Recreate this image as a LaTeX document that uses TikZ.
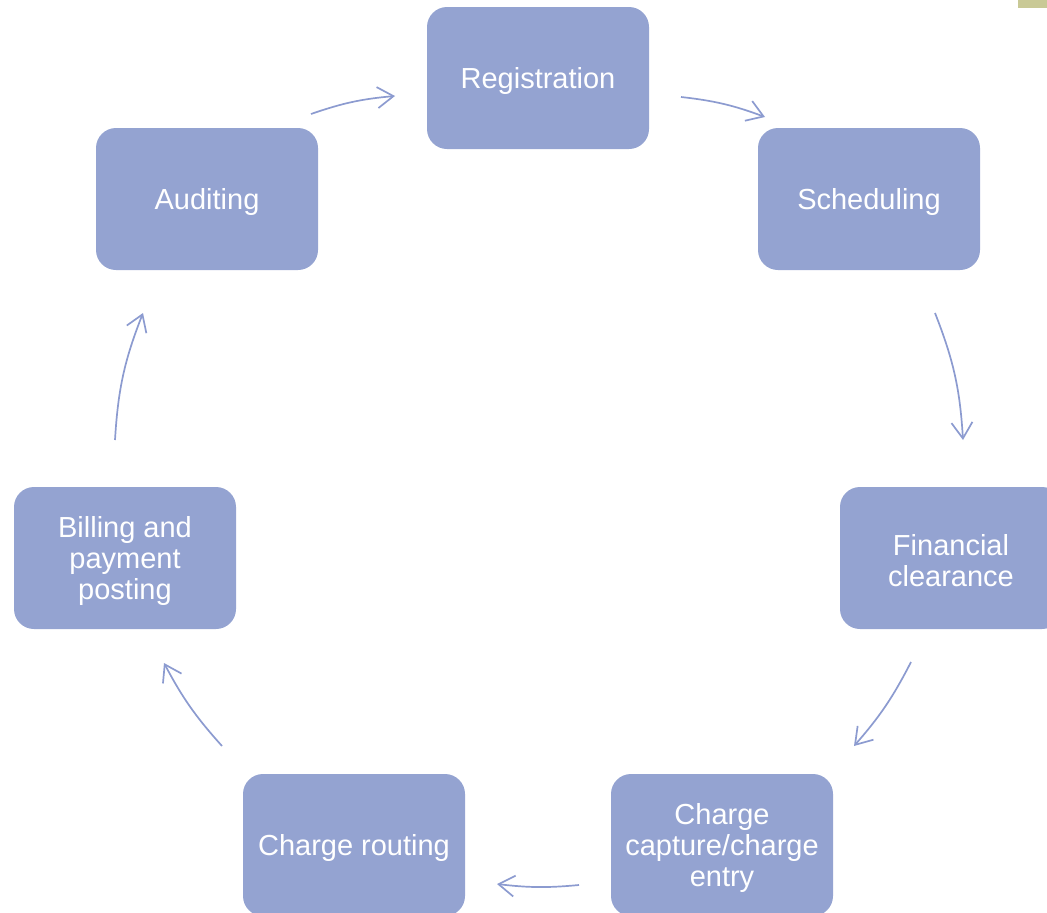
\documentclass[tikz,border=0pt]{standalone}
\usepackage{fontspec}
\setmainfont{Liberation Sans}
\usetikzlibrary{arrows.meta}
\definecolor{boxfill}{HTML}{94A3D1}
\definecolor{arrcol}{HTML}{8C9BD0}
\definecolor{khaki}{HTML}{C9C996}
\tikzset{
  stepbox/.style={fill=boxfill, rounded corners=20pt, minimum width=222pt, minimum height=142pt, inner sep=0pt},
  steptext/.style={text=white, align=center, font=\fontsize{29}{31}\selectfont, inner sep=0pt, yshift=-3pt},
  cyclearrow/.style={draw=arrcol, line width=1.7pt, -{Straight Barb[length=16pt,width=21pt,line width=1.7pt]}}
}
\begin{document}
\begin{tikzpicture}[x=1pt,y=-1pt]
\useasboundingbox (0,0) rectangle (1047,913);
\clip (0,0) rectangle (1047,913);
\fill[khaki] (1018,0) rectangle (1047,8);
\node[stepbox, label={[steptext]center:Registration}] (reg) at (538,78) {};
\node[stepbox, label={[steptext]center:Scheduling}] (sch) at (869,199) {};
\node[stepbox, label={[steptext]center:{Financial\\clearance}}] (fin) at (951,558) {};
\node[stepbox, label={[steptext]center:{Charge\\capture/charge\\entry}}] (cc) at (722,845) {};
\node[stepbox, label={[steptext]center:Charge routing}] (cr) at (354,845) {};
\node[stepbox, label={[steptext]center:{Billing and\\payment\\posting}}] (bil) at (125,558) {};
\node[stepbox, label={[steptext]center:Auditing}] (aud) at (207,199) {};
\coordinate (a1) at (311,114); \coordinate (a2) at (395,96);
\coordinate (b1) at (681,97);  \coordinate (b2) at (765,117);
\coordinate (c1) at (935,313); \coordinate (c2) at (963,440);
\coordinate (d1) at (911,662); \coordinate (d2) at (854,746);
\coordinate (e1) at (579,885); \coordinate (e2) at (497,884);
\coordinate (f1) at (222,746); \coordinate (f2) at (164,663);
\coordinate (g1) at (115,440); \coordinate (g2) at (143,313);
\draw[cyclearrow] (a1) to[bend left=7] (a2);
\draw[cyclearrow] (b1) to[bend left=7] (b2);
\draw[cyclearrow] (c1) to[bend left=9] (c2);
\draw[cyclearrow] (d1) to[bend left=7] (d2);
\draw[cyclearrow] (e1) to[bend left=6] (e2);
\draw[cyclearrow] (f1) to[bend left=7] (f2);
\draw[cyclearrow] (g1) to[bend left=9] (g2);
\end{tikzpicture}
\end{document}
